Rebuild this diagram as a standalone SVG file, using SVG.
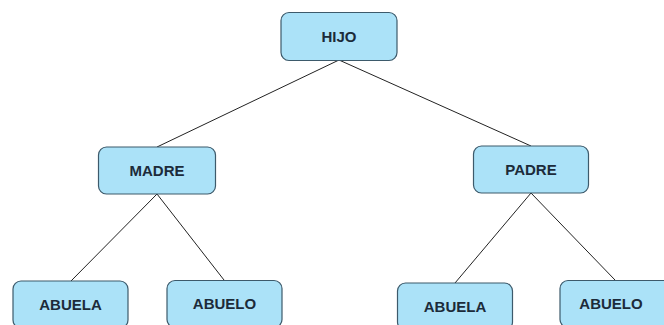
<svg xmlns="http://www.w3.org/2000/svg" width="664" height="325" viewBox="0 0 664 325">
  <style>
    .box { fill: #abe2f8; stroke: #3d5a6b; stroke-width: 1.2; }
    .lbl { font-family: "Liberation Sans", Arial, sans-serif; font-weight: bold; font-size: 15px; fill: #1c2b3a; text-anchor: middle; dominant-baseline: central; }
    .edge { stroke: #222; stroke-width: 1; fill: none; }
  </style>
  <rect width="664" height="325" fill="#ffffff"/>
  <g id="connectors">
    <line class="edge" x1="339" y1="60" x2="157" y2="147"/>
    <line class="edge" x1="339" y1="60" x2="531" y2="146"/>
    <line class="edge" x1="157" y1="194" x2="71" y2="281"/>
    <line class="edge" x1="157" y1="194" x2="224" y2="280"/>
    <line class="edge" x1="531" y1="193" x2="455" y2="283"/>
    <line class="edge" x1="531" y1="193" x2="615" y2="280"/>
  </g>
  <g id="hijo">
    <rect class="box" x="281" y="12.5" width="116" height="48" rx="8"/>
    <text class="lbl" x="339" y="36.5">HIJO</text>
  </g>
  <g id="madre">
    <rect class="box" x="98.5" y="147" width="117" height="47" rx="8"/>
    <text class="lbl" x="157" y="170.5">MADRE</text>
  </g>
  <g id="padre">
    <rect class="box" x="473.5" y="146" width="115" height="47" rx="8"/>
    <text class="lbl" x="531" y="169.5">PADRE</text>
  </g>
  <g id="abuela-materna">
    <rect class="box" x="13" y="281" width="115" height="47" rx="8"/>
    <text class="lbl" x="70.5" y="304">ABUELA</text>
  </g>
  <g id="abuelo-materno">
    <rect class="box" x="167" y="280.5" width="115" height="47" rx="8"/>
    <text class="lbl" x="224.5" y="303.5">ABUELO</text>
  </g>
  <g id="abuela-paterna">
    <rect class="box" x="397.5" y="283" width="115" height="47" rx="8"/>
    <text class="lbl" x="455" y="306">ABUELA</text>
  </g>
  <g id="abuelo-paterno">
    <rect class="box" x="560" y="280.5" width="115" height="47" rx="8"/>
    <text class="lbl" x="611" y="303">ABUELO</text>
  </g>
</svg>
